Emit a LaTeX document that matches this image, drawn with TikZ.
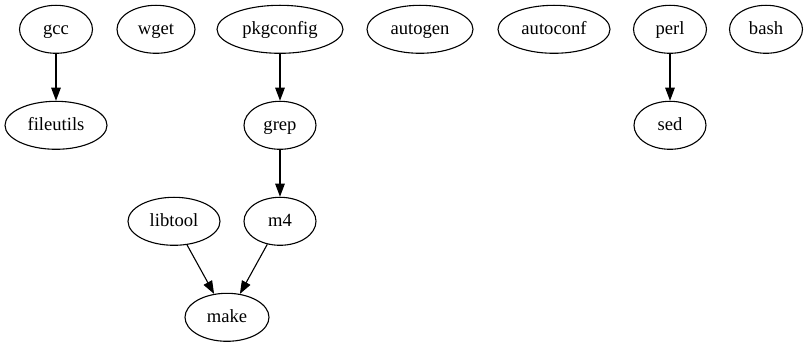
\documentclass[tikz,border=0pt]{standalone}
\usepackage{fontspec}
\setmainfont{Liberation Serif}
\usetikzlibrary{shapes.geometric,arrows.meta}
\begin{document}
\begin{tikzpicture}[x=1pt,y=-1pt,
  pkg/.style={draw, ellipse, line width=1.1pt, inner sep=0pt,
    minimum height=48pt, text height=13.5pt, text depth=3.5pt,
    font=\fontsize{18.6}{22}\selectfont},
  dep/.style={line width=1.1pt,
    -{Triangle[length=13pt,width=9.5pt]}}]
\useasboundingbox (0,0) rectangle (808,347);
% top rank
\node[pkg, minimum width=73pt]  (gcc)       at (56,29.3)  {gcc};
\node[pkg, minimum width=78pt]  (wget)      at (156,29.3) {wget};
\node[pkg, minimum width=126pt] (pkgconfig) at (280,29.3) {pkgconfig};
\node[pkg, minimum width=106pt] (autogen)   at (420,29.3) {autogen};
\node[pkg, minimum width=112pt] (autoconf)  at (554,29.3) {autoconf};
\node[pkg, minimum width=73pt]  (perl)      at (670,29.3) {perl};
\node[pkg, minimum width=73pt]  (bash)      at (766,29.3) {bash};
% second rank
\node[pkg, minimum width=102pt] (fileutils) at (56,125.3)  {fileutils};
\node[pkg, minimum width=72pt]  (grep)      at (280,125.3) {grep};
\node[pkg, minimum width=72pt]  (sed)       at (670,125.3) {sed};
% third rank
\node[pkg, minimum width=92pt]  (libtool)   at (174,221.3) {libtool};
\node[pkg, minimum width=72pt]  (m4)        at (280,221.3) {m4};
% bottom rank
\node[pkg, minimum width=84pt]  (make)      at (227,317.3) {make};
% dependencies
\draw[dep] (gcc) -- (fileutils);
\draw[dep] (pkgconfig) -- (grep);
\draw[dep] (grep) -- (m4);
\draw[dep] (perl) -- (sed);
\draw[dep] (libtool) -- (make);
\draw[dep] (m4) -- (make);
\end{tikzpicture}
\end{document}
